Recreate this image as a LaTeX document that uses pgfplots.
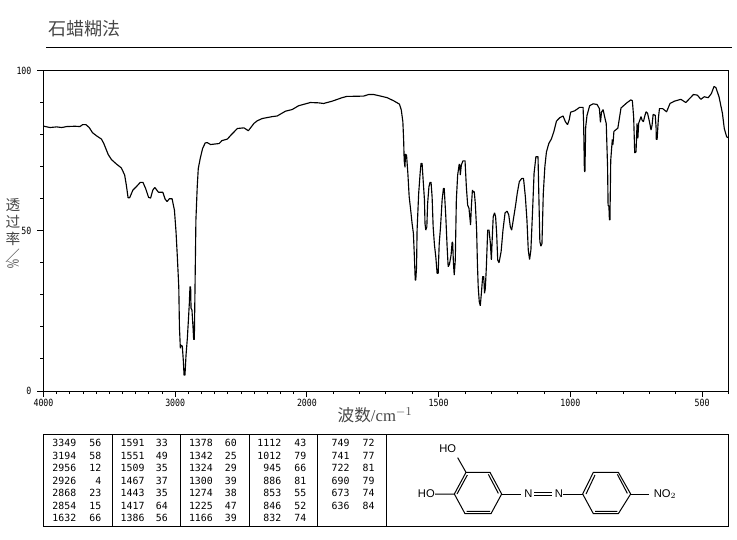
\documentclass[border=0pt]{standalone}
\usepackage{fontspec}
\usepackage{pgfplots}
\pgfplotsset{compat=1.18}
\setmainfont{Liberation Serif}
\newfontfamily\cjk{Noto Sans CJK SC}
\newfontfamily\pix{DejaVu Sans Mono}
\newfontfamily\chem{Liberation Sans}
\definecolor{labelgray}{RGB}{70,70,70}

\begin{document}
\begin{tikzpicture}
\path[use as bounding box] (0,0) rectangle (552.75pt,-404.25pt);

\begin{axis}[
    at={(32.625pt,-293.25pt)}, anchor=south west,
    scale only axis, width=513.75pt, height=240.4pt,
    % the wavenumber axis is compressed by 2 above 2000 cm-1
    x coord trafo/.code={\pgfmathparse{#1>2000 ? 2000+(#1-2000)/2 : #1}},
    x dir=reverse,
    xmin=400, xmax=4000, ymin=0, ymax=100,
    xtick={4000,3000,2000,1500,1000,500},
    xticklabels={4000,3000,2000,1500,1000,500},
    minor xtick={3900,3800,3700,3600,3500,3400,3300,3200,3100,2900,2800,2700,2600,2500,2400,2300,2200,2100,1900,1800,1700,1600,1400,1300,1200,1100,900,800,700,600,400},
    ytick={0,50,100},
    yticklabels={0,50,100},
    minor ytick={10,20,30,40,60,70,80,90},
    xtick pos=bottom, ytick pos=left,
    tick align=outside,
    major tick length=4.5pt, minor tick length=2.25pt,
    tick style={black, line width=0.75pt},
    axis line style={line width=0.75pt},
    tick label style={font=\pix\fontsize{6.2}{7}\selectfont, yscale=1.2},
    xticklabel style={yshift=2.5pt},
    yticklabel style={xshift=-1pt},
    title={\cjk\fontsize{13.5}{15}\selectfont 石蜡糊法},
    title style={at={(axis description cs:0.0066,1.105)}, anchor=west, text=labelgray, inner sep=0pt},
    xlabel={{\cjk 波数}/cm$^{-1}$},
    every axis x label/.style={at={(axis description cs:0.484,-0.075)}, anchor=center,
        font=\fontsize{12.5}{14}\selectfont, text=labelgray},
    ylabel={\begin{tabular}{@{}c@{}}\cjk 透\\\cjk 过\\\cjk 率\\\smash{\reflectbox{\rotatebox[origin=c]{-90}{\cjk ／}}}\\[-6pt]\smash{\rotatebox[origin=c]{-90}{\scalebox{0.75}[1.15]{\%}}}\end{tabular}},
    every axis y label/.style={at={(axis description cs:-0.0445,0.482)}, anchor=center,
        font=\fontsize{11}{12.5}\selectfont, text=labelgray, inner sep=0pt},
]
\addplot[black, line width=0.85pt, line join=bevel] table {
4000 82.7
3987 82.5
3950 82.2
3900 82.4
3862 82.2
3824 82.5
3761 82.6
3723 82.5
3703 83.1
3678 83.1
3653 82.2
3628 80.6
3597 79.6
3560 78.6
3542 77.2
3509 73.8
3484 72.2
3446 70.8
3409 69.6
3384 67.4
3371 64.2
3358 60.3
3346 60.3
3321 62.7
3296 63.7
3265 65.1
3245 65.1
3225 63.2
3202 60.4
3187 60.2
3170 62.7
3155 63.5
3127 62
3094 62
3077 59.9
3062 59.1
3044 60
3024 60
3006 56.4
2994 49.7
2984 41.9
2973 32.5
2968 20
2961 13.3
2956 14.3
2946 14
2938 9.1
2933 5
2926 5
2918 11.2
2908 16.4
2900 22.1
2893 27.3
2888 32.5
2883 32.5
2880 25.8
2873 25.3
2865 20
2860 16.1
2855 16.1
2850 31.5
2843 53.3
2833 63.7
2825 69.4
2810 72.6
2792 75.7
2772 77.4
2757 77.5
2732 76.9
2667 77.2
2646 78.1
2604 78.6
2578 79.8
2528 81.9
2478 82.1
2445 81.2
2402 83.5
2377 84.3
2340 85
2264 85.6
2226 85.8
2163 87.3
2113 87.8
2063 89
1987 90
1956 89.9
1937 89.7
1905 90.4
1867 91.5
1849 91.9
1785 92
1766 92.5
1747 92.5
1720 92
1695 91.5
1670 90.5
1649 89.5
1642 87.7
1636 84
1633 78.3
1631 72
1628 69.8
1626 73.9
1622 73.6
1617 67.9
1612 60.6
1607 57
1601 52.3
1596 49.2
1592 41.4
1589 34.6
1587 34.6
1584 38.8
1582 50.2
1576 61.6
1570 68.4
1567 71
1563 71
1559 65.8
1554 59.6
1552 52.3
1549 50.2
1545 51.2
1542 58.5
1537 63.7
1533 65.1
1529 65.1
1525 60.6
1521 51.2
1516 45.5
1511 41.9
1506 36.7
1502 36.7
1498 46
1493 51.2
1487 59.6
1482 63.2
1479 63.2
1473 54.4
1468 45
1464 38.8
1459 39.6
1453 42.4
1449 46.4
1447 46.4
1444 39.8
1441 36.2
1437 40.9
1433 59.6
1428 67.4
1422 70.8
1420 70.5
1418 67.4
1414 70.5
1408 71.8
1400 71.8
1395 63.7
1390 58
1385 57
1379 51.8
1376 57.5
1372 62.7
1368 62
1365 62.2
1361 58.5
1356 50.2
1353 39.8
1350 32.5
1346 27.9
1342 26.6
1338 30.5
1333 35.7
1329 35.7
1326 30.5
1323 32
1319 38.8
1314 50.2
1309 50.2
1304 46.3
1300 40.9
1297 47.1
1293 54.4
1288 55.6
1284 54.4
1280 49.2
1276 40.9
1271 40
1263 43.5
1256 50.2
1248 55.6
1240 56.1
1234 54.9
1228 51.2
1223 50.2
1217 53.3
1208 58
1202 61.6
1194 65.3
1185 66.3
1178 66.3
1171 60.6
1165 53.3
1160 44
1155 41
1150 44
1143 57.5
1138 67.9
1131 73.1
1123 73.1
1120 61.6
1116 46.6
1112 45.2
1108 46
1103 61.6
1097 70
1091 74.6
1082 77.2
1072 78.7
1063 80.9
1053 84.2
1040 85.3
1028 85.8
1019 84
1011 83.1
1005 84.5
999 87
984 87.4
965 88.5
952 88.5
950 84
947 68.9
945 68.3
942 82.4
937 86
927 89
914 89.6
899 89.4
890 88.1
886 83.8
882 87
876 87.8
870 85.5
864 83.4
859 70
857 57.8
854 57.8
852 53.4
850 53.4
847 72
841 78.5
839 76.7
837 78.5
835 81
820 82
808 88.3
786 89.9
771 90.8
765 90.6
760 85.5
756 74.3
751 74.6
747 83.5
744 78.8
741 83.5
732 85.6
728 84.5
723 84
717 86
713 87.1
707 86.6
700 84
694 81.4
690 83
686 86.3
678 86
675 82.4
674 78.5
671 78.5
666 85.2
662 88.1
650 88.1
635 87.1
622 89.7
606 90.4
581 91
562 90
533 92.5
518 92.3
505 91
492 91.8
477 91.5
465 92.8
455 95
448 94.7
436 91.8
423 86.6
416 81.9
407 79.3
400 79
};
\end{axis}

% page furniture, in reference pixels (origin top left)
\begin{scope}[x=0.75pt, y=-0.75pt, line width=0.75pt]
\draw (46,47.3) -- (732,47.3);
\draw (43.3,434.3) rectangle (728.3,526);
\foreach \vx in {112.3,180.3,249.7,317.3,386.7} \draw (\vx,434.3) -- (\vx,526);

\tikzset{num/.style={anchor=east, inner sep=0pt, font=\pix\fontsize{7.4}{9}\selectfont}}
\foreach \cx/\tx/\rows in {
  76.7/101.7/{3349/56,3194/58,2956/12,2926/4,2868/23,2854/15,1632/66},
  145/168.3/{1591/33,1551/49,1509/35,1467/37,1443/35,1417/64,1386/56},
  213.3/237.3/{1378/60,1342/25,1324/29,1300/39,1274/38,1225/47,1166/39},
  281.7/306.7/{1112/43,1012/79,945/66,886/81,853/55,846/52,832/74},
  350/375/{749/72,741/77,722/81,690/79,673/74,636/84}} {
  \foreach \w/\t [count=\i from 0] in \rows {
    \node[num] at (\cx,443.3+12.5*\i) {\w};
    \node[num] at (\tx,443.3+12.5*\i) {\t};
  }
}
\end{scope}

% structure, coordinates are 1/3 of a reference pixel from (385,425)
\begin{scope}[shift={(288.75pt,-318.75pt)}, x=0.25pt, y=-0.25pt, line width=0.75pt]
\draw (208,207) -- (243,142) -- (315,142) -- (350,207) -- (318,266) -- (240,266) -- cycle;
\draw (216,207) -- (247,150) (310,148) -- (340,205) (245,259) -- (315,259);
\draw (593,207) -- (625,142) -- (700,142) -- (737,207) -- (700,266) -- (625,266) -- cycle;
\draw (603,207) -- (630,150) (697,148) -- (727,205) (630,259) -- (697,259);
\draw (350,207) -- (408,207) (535,207) -- (593,207) (737,207) -- (793,207);
\draw (448,203) -- (500,203) (448,210) -- (500,210);
\draw (218,98) -- (243,142) (150,207) -- (208,207);
\tikzset{atom/.style={inner sep=0pt, font=\chem\fontsize{8.4}{10}\selectfont}}
\node[atom] at (188,71) {HO};
\node[atom] at (124,206) {HO};
\node[atom] at (430,206) {N};
\node[atom] at (522,206) {N};
\node[atom, anchor=west] at (805,207) {NO$_2$};
\end{scope}
\end{tikzpicture}
\end{document}
